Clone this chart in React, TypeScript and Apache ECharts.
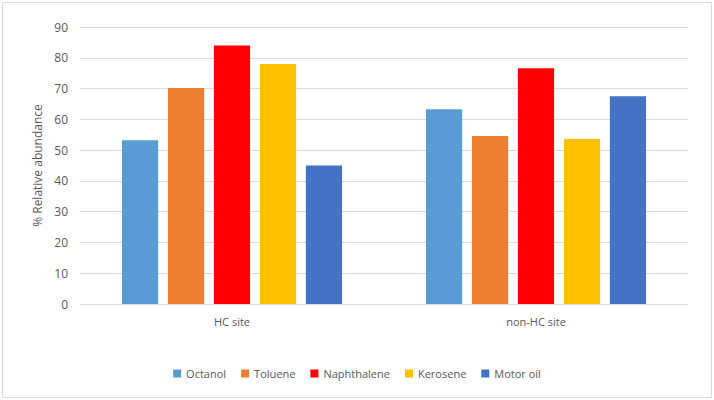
import React, { useEffect, useRef } from "react";
import * as echarts from "echarts";

const categories = ["HC site", "non-HC site"];
const seriesNames = ["Octanol", "Toluene", "Naphthalene", "Kerosene", "Motor oil"];
const octanol = [53.2, 63.3];
const toluene = [70.2, 54.6];
const naphthalene = [84.0, 76.6];
const kerosene = [78.0, 53.6];
const motorOil = [45.0, 67.5];
const colors = ["#5B9BD5", "#ED7D31", "#FF0000", "#FFC000", "#4472C4"];
const yTicks = { min: 0, max: 90, interval: 10 };

export default function App() {
  const ref = useRef<HTMLDivElement>(null);
  useEffect(() => {
    document.body.style.margin = "0";
    const chart = echarts.init(ref.current!, null, { renderer: "svg" });
    const values = [octanol, toluene, naphthalene, kerosene, motorOil];
    chart.setOption({
      animation: false,
      backgroundColor: "#ffffff",
      textStyle: { fontFamily: "Open Sans, Noto Sans, sans-serif" },
      grid: { left: 80, right: 26, top: 27, bottom: 96, containLabel: false },
      graphic: [
        {
          type: "rect",
          shape: { x: 2.5, y: 2.5, width: 709, height: 395 },
          style: { fill: "none", stroke: "#d9d9d9", lineWidth: 1 },
          silent: true,
        },
      ],
      legend: {
        bottom: 16,
        left: "center",
        itemWidth: 8,
        itemHeight: 8,
        itemGap: 15,
        icon: "rect",
        textStyle: { color: "#595959", fontSize: 11 },
        data: seriesNames,
      },
      xAxis: {
        type: "category",
        data: categories,
        axisLine: { lineStyle: { color: "#d9d9d9" } },
        axisTick: { show: false },
        axisLabel: { color: "#595959", fontSize: 11, margin: 12 },
      },
      yAxis: {
        type: "value",
        min: yTicks.min,
        max: yTicks.max,
        interval: yTicks.interval,
        name: "% Relative abundance",
        nameLocation: "middle",
        nameGap: 28,
        nameRotate: 90,
        nameTextStyle: { color: "#595959", fontSize: 12 },
        axisLine: { show: false },
        axisTick: { show: false },
        axisLabel: { color: "#595959", fontSize: 12, margin: 12 },
        splitLine: { lineStyle: { color: "#d9d9d9" } },
      },
      series: seriesNames.map((name, i) => ({
        name,
        type: "bar",
        data: values[i],
        itemStyle: { color: colors[i] },
        barGap: "27%",
        barCategoryGap: "27.6%",
      })),
    });
    return () => chart.dispose();
  }, []);
  return <div ref={ref} style={{ position: "absolute", left: 0, top: 0, width: 714, height: 400 }} />;
}
